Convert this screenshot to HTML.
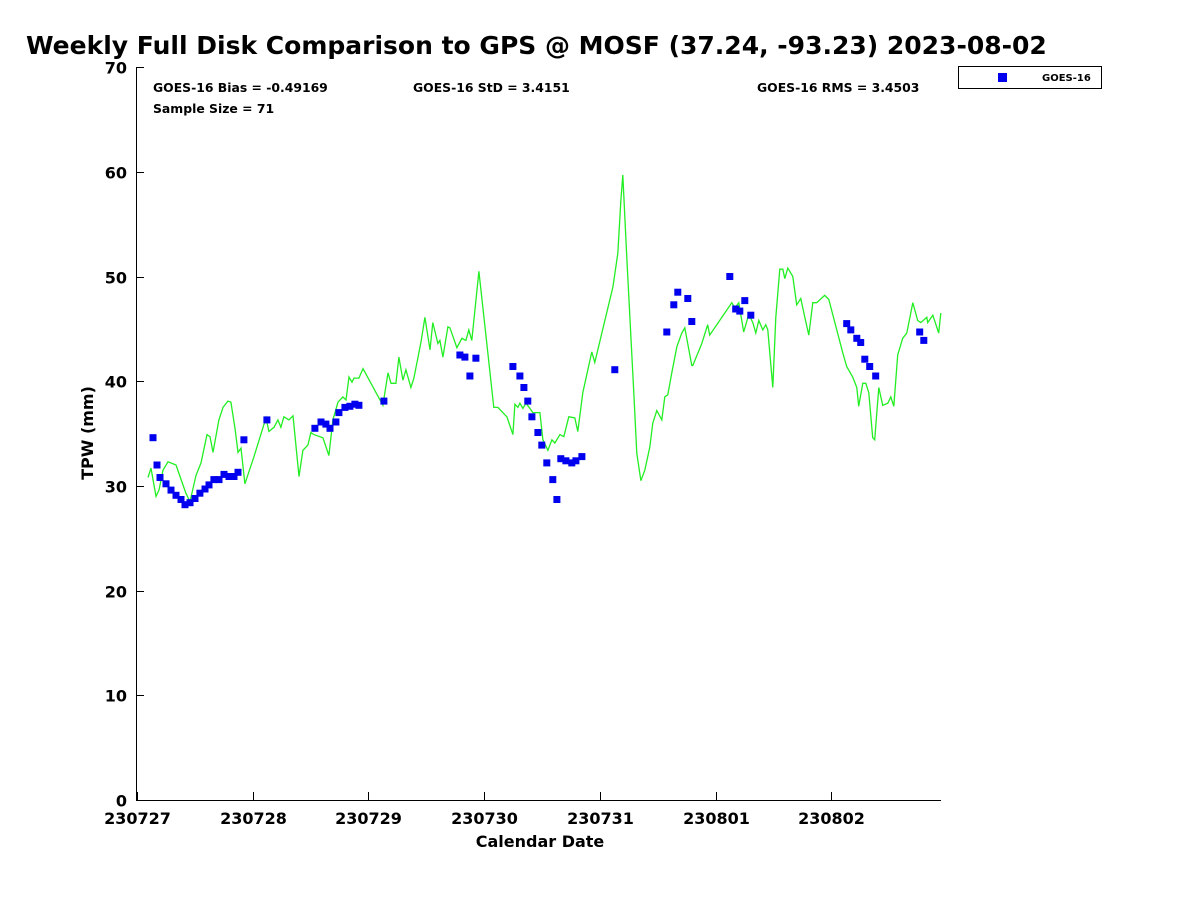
<!DOCTYPE html>
<html><head><meta charset="utf-8"><style>
html,body{margin:0;padding:0;background:#fff;}
svg{display:block;font-family:"DejaVu Sans","Liberation Sans",sans-serif;font-weight:bold;}
</style></head><body>
<svg id="chart" width="1200" height="900" viewBox="0 0 1200 900">
<text x="26" y="54" font-size="25" fill="#000">Weekly Full Disk Comparison to GPS @ MOSF (37.24, -93.23) 2023-08-02</text>
<text x="153" y="92" font-size="12.4">GOES-16 Bias = -0.49169</text>
<text x="413" y="92" font-size="12.4">GOES-16 StD = 3.4151</text>
<text x="757" y="92" font-size="12.4">GOES-16 RMS = 3.4503</text>
<text x="153" y="113" font-size="12.4">Sample Size = 71</text>
<g>
<rect x="958.5" y="66.5" width="143" height="22" fill="#fff" stroke="#000" stroke-width="1"/>
<rect x="998" y="73" width="9" height="9" fill="#0000ee"/>
<text x="1042" y="81" font-size="10">GOES-16</text>
</g>
<text x="540" y="847" font-size="16" text-anchor="middle">Calendar Date</text>
<text transform="translate(93,433) rotate(-90)" font-size="16" text-anchor="middle">TPW (mm)</text>
<g id="axes"></g>
<g id="marks"></g>
</svg>
<script>
const xTickLabels=["230727","230728","230729","230730","230731","230801","230802"];
const yTicks=[0,10,20,30,40,50,60,70];
const gpsDays=[.095,.121,.164,.190,.225,.268,.337,.423,.458,.510,.553,.605,.631,.657,.708,.743,.786,.812,.847,.873,.899,.933,1.011,1.115,1.140,1.184,1.218,1.244,1.270,1.313,1.348,1.400,1.434,1.477,1.503,1.529,1.607,1.659,1.693,1.737,1.780,1.806,1.832,1.858,1.875,1.918,1.953,2.125,2.169,2.195,2.238,2.264,2.298,2.324,2.367,2.393,2.454,2.488,2.532,2.557,2.601,2.618,2.644,2.687,2.704,2.765,2.808,2.843,2.868,2.894,2.955,3.084,3.119,3.197,3.249,3.266,3.292,3.309,3.335,3.361,3.396,3.421,3.482,3.508,3.551,3.586,3.612,3.655,3.689,3.732,3.784,3.810,3.853,3.931,3.957,4.113,4.156,4.182,4.199,4.234,4.294,4.320,4.355,4.389,4.432,4.458,4.493,4.536,4.562,4.588,4.622,4.666,4.709,4.735,4.795,4.804,4.882,4.933,4.950,5.141,5.167,5.201,5.244,5.288,5.322,5.348,5.374,5.409,5.435,5.452,5.495,5.521,5.556,5.582,5.599,5.625,5.668,5.702,5.737,5.772,5.806,5.841,5.875,5.944,5.979,6.100,6.134,6.186,6.221,6.238,6.273,6.299,6.325,6.359,6.376,6.411,6.445,6.489,6.515,6.541,6.575,6.618,6.653,6.705,6.748,6.774,6.826,6.834,6.878,6.929,6.947];
const gpsTPW=[30.8,31.7,29.0,29.6,31.5,32.3,32.0,29.3,28.5,31.0,32.2,34.9,34.7,33.2,36.3,37.5,38.1,38.0,35.5,33.2,33.6,30.2,32.8,36.5,35.2,35.6,36.3,35.6,36.6,36.3,36.7,30.9,33.4,33.9,35.1,34.9,34.6,32.9,36.3,38.0,38.5,38.2,40.4,39.9,40.3,40.3,41.2,37.7,40.8,39.8,39.8,42.3,40.1,41.1,39.4,40.3,43.7,46.1,43.0,45.6,43.6,43.9,42.3,45.2,45.1,43.2,44.1,43.9,44.9,43.9,50.5,37.5,37.5,36.6,34.9,37.8,37.5,37.9,37.4,37.9,37.4,37.0,37.0,34.4,33.4,34.4,34.1,34.9,34.7,36.6,36.5,35.2,38.9,42.8,41.8,49.0,52.2,57.3,59.7,51.6,38.9,33.1,30.5,31.5,33.7,36.0,37.2,36.3,38.5,38.7,40.8,43.3,44.6,45.1,41.5,41.5,43.6,45.4,44.4,47.5,47.0,47.5,44.7,46.4,45.6,44.6,45.8,44.9,45.4,44.9,39.4,46.1,50.7,50.7,49.8,50.8,50.0,47.3,47.9,46.1,44.4,47.5,47.5,48.2,47.8,42.7,41.4,40.4,39.4,37.6,39.8,39.8,38.9,34.6,34.4,39.4,37.7,37.9,38.5,37.6,42.5,44.1,44.6,47.5,45.8,45.6,46.1,45.6,46.3,44.6,46.5];
const goesDays=[.138,.173,.199,.251,.294,.337,.380,.415,.458,.501,.544,.588,.622,.665,.709,.752,.795,.838,.873,.924,1.123,1.538,1.590,1.633,1.668,1.719,1.745,1.797,1.840,1.883,1.918,2.134,2.791,2.834,2.877,2.929,3.249,3.309,3.344,3.378,3.413,3.465,3.499,3.542,3.594,3.629,3.663,3.707,3.758,3.793,3.845,4.130,4.579,4.640,4.674,4.761,4.795,5.124,5.175,5.210,5.253,5.305,6.134,6.169,6.221,6.255,6.290,6.333,6.385,6.765,6.800];
const goesTPW=[34.6,32.0,30.8,30.2,29.6,29.1,28.7,28.2,28.4,28.8,29.3,29.7,30.1,30.6,30.6,31.1,30.9,30.9,31.3,34.4,36.3,35.5,36.1,35.9,35.5,36.1,37.0,37.5,37.6,37.8,37.7,38.1,42.5,42.3,40.5,42.2,41.4,40.5,39.4,38.1,36.6,35.1,33.9,32.2,30.6,28.7,32.6,32.4,32.2,32.4,32.8,41.1,44.7,47.3,48.5,47.9,45.7,50.0,46.9,46.7,47.7,46.3,45.5,44.9,44.1,43.7,42.1,41.4,40.5,44.7,43.9];

const NS='http://www.w3.org/2000/svg';
const X0=137,DAYPX=115.7,Y0=800,VPX=10.47;
function xs(d){return X0+d*DAYPX;}
function ys(v){return Y0-v*VPX;}
function mk(tag,attrs,parent){const e=document.createElementNS(NS,tag);for(const k in attrs)e.setAttribute(k,attrs[k]);parent.appendChild(e);return e;}
const axes=document.getElementById('axes'),marks=document.getElementById('marks');
let a=mk('path',{d:'M136.5,67 V800.5 H941',fill:'none',stroke:'#000','stroke-width':1},axes);


yTicks.forEach(v=>{
  const y=Math.round(ys(v))+0.5;
  const t=mk('line',{x1:136,x2:144,y1:y,y2:y,stroke:'#000'},axes);
  
  
  const l=mk('text',{x:127,y:y+6,'font-size':16,'text-anchor':'end'},axes);
  l.textContent=v;
  
  
});
xTickLabels.forEach((s,i)=>{
  const x=Math.round(xs(i))+0.5;
  const t=mk('line',{x1:x,x2:x,y1:800,y2:792,stroke:'#000'},axes);
  
  
  const l=mk('text',{x:x,y:824,'font-size':16,'text-anchor':'middle'},axes);
  l.textContent=s;
  
  
});
const pts=gpsDays.map((d,i)=>xs(d).toFixed(1)+','+ys(gpsTPW[i]).toFixed(1)).join(' ');
const pl=mk('polyline',{points:pts,fill:'none',stroke:'#22ee22','stroke-width':1.3},marks);


goesDays.forEach((d,i)=>{
  const r=mk('rect',{x:(xs(d)-3.5).toFixed(1),y:(ys(goesTPW[i])-3.5).toFixed(1),width:7,height:7,fill:'#0000ee'},marks);
  
  
});
</script>
</body></html>
